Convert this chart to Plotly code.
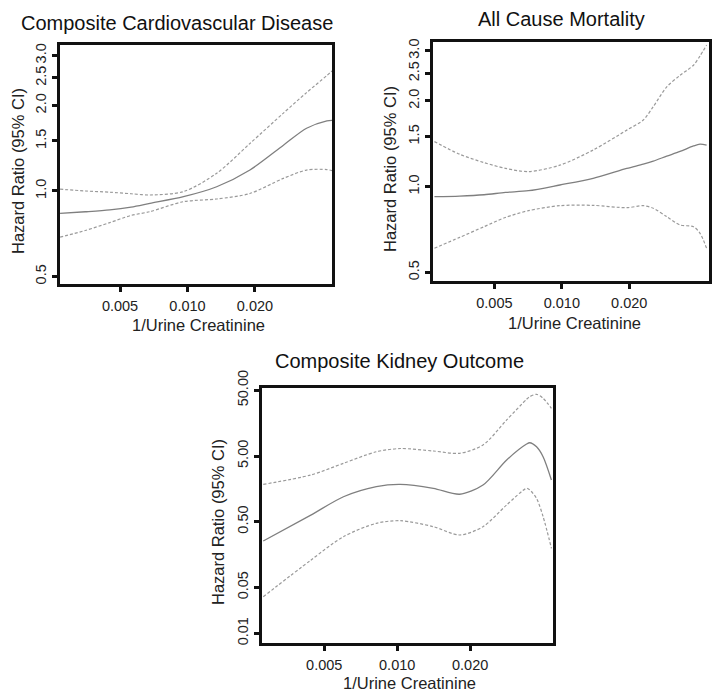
import plotly.graph_objects as go

# ---------------- data ----------------
# Panel 1: Composite Cardiovascular Disease
x_cvd = [0.0027, 0.0035, 0.0045, 0.0056, 0.0068, 0.0096, 0.0135, 0.019, 0.0268, 0.034, 0.0419, 0.0448]
hr_cvd = [0.834, 0.845, 0.858, 0.878, 0.905, 0.955, 1.035, 1.186, 1.45, 1.663, 1.765, 1.775]
upper_cvd = [1.015, 1.0, 0.99, 0.978, 0.968, 0.995, 1.154, 1.47, 1.88, 2.22, 2.55, 2.67]
lower_cvd = [0.688, 0.726, 0.774, 0.82, 0.846, 0.917, 0.937, 0.98, 1.108, 1.185, 1.19, 1.176]

# Panel 2: All Cause Mortality
x_acm = [0.0027, 0.0035, 0.0045, 0.0056, 0.0071, 0.0098, 0.0138, 0.0195, 0.0231, 0.0256,
         0.0294, 0.0337, 0.0387, 0.0414, 0.0443]
hr_acm = [0.923, 0.927, 0.937, 0.955, 0.968, 1.014, 1.07, 1.16, 1.20, 1.23,
          1.28, 1.33, 1.39, 1.41, 1.40]
upper_acm = [1.44, 1.30, 1.215, 1.16, 1.13, 1.19, 1.345, 1.58, 1.714, 1.91,
             2.24, 2.46, 2.67, 2.88, 3.14]
lower_acm = [0.608, 0.664, 0.724, 0.78, 0.824, 0.858, 0.86, 0.844, 0.858, 0.84,
             0.785, 0.734, 0.724, 0.686, 0.608]

# Panel 3: Composite Kidney Outcome
x_kid = [0.0028, 0.0044, 0.006, 0.0082, 0.0103, 0.0141, 0.0181, 0.0226, 0.0283, 0.0342,
         0.0352, 0.0376, 0.040, 0.0433]
hr_kid = [0.254, 0.63, 1.20, 1.71, 1.85, 1.61, 1.31, 1.81, 4.35, 7.6,
          7.96, 6.9, 4.88, 2.16]
upper_kid = [1.85, 2.57, 3.87, 5.8, 6.5, 5.96, 5.5, 7.35, 17.7, 36.5,
             39.9, 43.4, 37.8, 26.6]
lower_kid = [0.036, 0.13, 0.296, 0.473, 0.518, 0.42, 0.314, 0.42, 0.90, 1.61,
             1.53, 1.13, 0.60, 0.197]

x_tickvals = [0.005, 0.010, 0.020]
x_ticktext = ["0.005", "0.010", "0.020"]
y_tickvals_hr = [0.5, 1.0, 1.5, 2.0, 2.5, 3.0]
y_ticktext_hr = ["0.5", "1.0", "1.5", "2.0", "2.5", "3.0"]
y_tickvals_kid = [0.01, 0.05, 0.5, 5, 50]
y_ticktext_kid = ["0.01", "0.05", "0.50", "5.00", "50.00"]

titles = ["Composite Cardiovascular Disease", "All Cause Mortality", "Composite Kidney Outcome"]
x_title = "1/Urine Creatinine"
y_title = "Hazard Ratio (95% CI)"

# ---------------- figure ----------------
W, H = 714, 699
FONT = "Liberation Sans, Arial, Helvetica, sans-serif"
SOLID = "#7f7f7f"
DASH = "#9a9a9a"

fig = go.Figure()

panels = [
    (x_cvd, hr_cvd, upper_cvd, lower_cvd, "x", "y"),
    (x_acm, hr_acm, upper_acm, lower_acm, "x2", "y2"),
    (x_kid, hr_kid, upper_kid, lower_kid, "x3", "y3"),
]
for xs, hr, up, lo, xa, ya in panels:
    for ys in (up, lo):
        fig.add_trace(go.Scatter(x=xs, y=ys, mode="lines", xaxis=xa, yaxis=ya,
                                 line=dict(color=DASH, width=1.2, dash="3px,2px",
                                           shape="spline", smoothing=0.8),
                                 showlegend=False, hoverinfo="skip"))
    fig.add_trace(go.Scatter(x=xs, y=hr, mode="lines", xaxis=xa, yaxis=ya,
                             line=dict(color=SOLID, width=1.3, shape="spline", smoothing=0.8),
                             showlegend=False, hoverinfo="skip"))

# pixel boxes (left, top, right, bottom)
boxes = [(60, 45, 332, 284), (433, 42, 709, 281), (262, 388, 553, 643)]
x_ranges = [[-2.569, -1.355], [-2.575, -1.343], [-2.558, -1.357]]
y_ranges = [[-0.3275, 0.514], [-0.331, 0.508], [-2.147, 1.734]]

def common_axis():
    return dict(type="log", showgrid=False, zeroline=False, showline=True, mirror=True,
                automargin=False,
                linecolor="#111111", linewidth=2.6, ticks="outside", ticklen=5, tickwidth=2.6,
                tickcolor="#111111", tickfont=dict(family=FONT, size=14.5, color="#222222"))

layout_axes = {}
for i, ((l, t, r, b), xr, yr) in enumerate(zip(boxes, x_ranges, y_ranges)):
    suffix = "" if i == 0 else str(i + 1)
    xa = common_axis()
    xa.update(domain=[l / W, r / W], range=xr, anchor="y" + suffix,
              tickvals=x_tickvals, ticktext=x_ticktext, ticklabelstandoff=2)
    ya = common_axis()
    if i < 2:
        ya.update(tickvals=y_tickvals_hr, ticktext=y_ticktext_hr)
    else:
        ya.update(tickvals=y_tickvals_kid, ticktext=y_ticktext_kid)
    ya.update(domain=[1 - b / H, 1 - t / H], range=yr, anchor="x" + suffix, tickangle=-90)
    layout_axes["xaxis" + suffix] = xa
    layout_axes["yaxis" + suffix] = ya

annotations = []
# panel titles
for text, cx, cy in zip(titles, [177, 561, 399], [23, 19, 361]):
    annotations.append(dict(text=text, x=cx / W, y=1 - cy / H, xref="paper", yref="paper",
                            showarrow=False, xanchor="center", yanchor="middle",
                            font=dict(family=FONT, size=20, color="#111111")))
# x-axis titles
for cx, cy in zip([198, 574, 410], [325, 323, 683]):
    annotations.append(dict(text=x_title, x=cx / W, y=1 - cy / H, xref="paper", yref="paper",
                            showarrow=False, xanchor="center", yanchor="middle",
                            font=dict(family=FONT, size=16.5, color="#222222")))
# y-axis titles
for cx, cy in zip([18, 390, 218], [171, 169, 522]):
    annotations.append(dict(text=y_title, x=cx / W, y=1 - cy / H, xref="paper", yref="paper",
                            showarrow=False, xanchor="center", yanchor="middle", textangle=-90,
                            font=dict(family=FONT, size=16.5, color="#222222")))

fig.update_layout(width=W, height=H,
                  margin=dict(l=0, r=0, t=0, b=0, pad=0, autoexpand=False),
                  paper_bgcolor="white", plot_bgcolor="white",
                  annotations=annotations, **layout_axes)

fig.write_html("out.html",
               config={"displayModeBar": False},
               post_script="document.body.style.margin='0';document.body.style.padding='0';"
                           "document.documentElement.style.overflow='hidden';")
